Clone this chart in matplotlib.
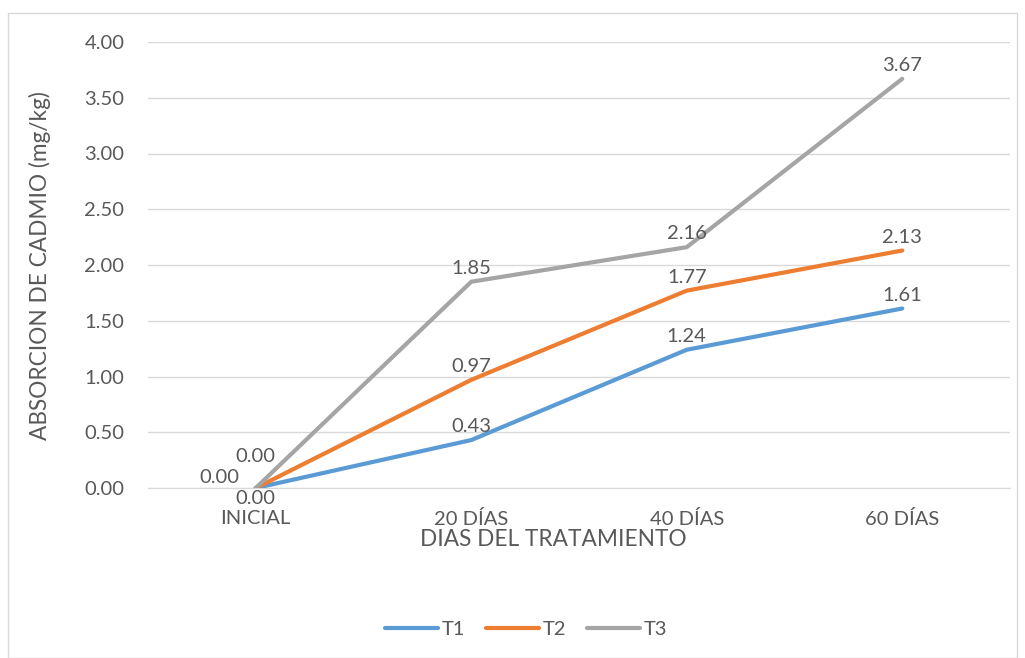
import matplotlib
matplotlib.use("Agg")
import matplotlib.pyplot as plt
from matplotlib.patches import Rectangle

categories = ["INICIAL", "20 DÍAS", "40 DÍAS", "60 DÍAS"]
t1 = [0.00, 0.43, 1.24, 1.61]
t2 = [0.00, 0.97, 1.77, 2.13]
t3 = [0.00, 1.85, 2.16, 3.67]
series_names = ["T1", "T2", "T3"]
colors = ["#5B9BD5", "#ED7D31", "#A5A5A5"]
yticks = [0.0, 0.5, 1.0, 1.5, 2.0, 2.5, 3.0, 3.5, 4.0]

plt.rcParams['font.family'] = ['Lato', 'DejaVu Sans']
txt = "#595959"
fs = 14.5

fig = plt.figure(figsize=(10.25, 6.58), dpi=100)
fig.patches.append(Rectangle((8/1025, 0), 1-16/1025, 1-13/658, transform=fig.transFigure,
                             fill=False, edgecolor="#D9D9D9", linewidth=1))
ax = fig.add_axes([148/1025, 1-488/658, (1010-148)/1025, (488-42)/658])

x = list(range(len(categories)))
for vals, name, c in zip([t1, t2, t3], series_names, colors):
    ax.plot(x, vals, color=c, linewidth=3, label=name, solid_capstyle='round', zorder=3)

# data labels (offsets in points)
first_offsets = [(0, -7.5), (-26.5, 7.5), (0, 23)]
for si, vals in enumerate([t1, t2, t3]):
    for i, v in enumerate(vals):
        if i == 0:
            dx, dy = first_offsets[si]
        else:
            dx, dy = 0, 9.5
        ax.annotate(f"{v:.2f}", (i, v), xytext=(dx, dy), textcoords="offset points",
                    ha="center", va="center", fontsize=fs, color=txt, zorder=4)

ax.set_xlim(-0.5, 3.5)
ax.set_ylim(0, 4.0)
ax.set_yticks(yticks)
ax.set_yticklabels([f"{t:.2f}" for t in yticks])
ax.set_xticks(x)
ax.set_xticklabels(categories)
ax.tick_params(axis='both', length=0, labelsize=fs, labelcolor=txt)
ax.tick_params(axis='y', pad=17)
ax.tick_params(axis='x', pad=16)
ax.grid(axis='y', color="#D9D9D9", linewidth=1)
ax.set_axisbelow(True)
for s in ["top", "right", "left"]:
    ax.spines[s].set_visible(False)
ax.spines["bottom"].set_color("#D9D9D9")

ax.set_xlabel("DIAS DEL TRATAMIENTO", fontsize=16.3, color=txt)
ax.xaxis.set_label_coords(553/1025, 1-539/658, transform=fig.transFigure)
ax.xaxis.label.set_va("center")
ax.set_ylabel("ABSORCION DE CADMIO (mg/kg)", fontsize=16.3, color=txt)
ax.yaxis.set_label_coords(40/1025, 1-266/658, transform=fig.transFigure)
ax.yaxis.label.set_va("center")

leg = fig.legend(loc="center", bbox_to_anchor=(526/1025, 1-629/658), ncol=3, frameon=False,
                 fontsize=fs, handlelength=2.65, columnspacing=1.05, handletextpad=0.15)
for t in leg.get_texts():
    t.set_color(txt)

fig.savefig("out.png", dpi=100)
